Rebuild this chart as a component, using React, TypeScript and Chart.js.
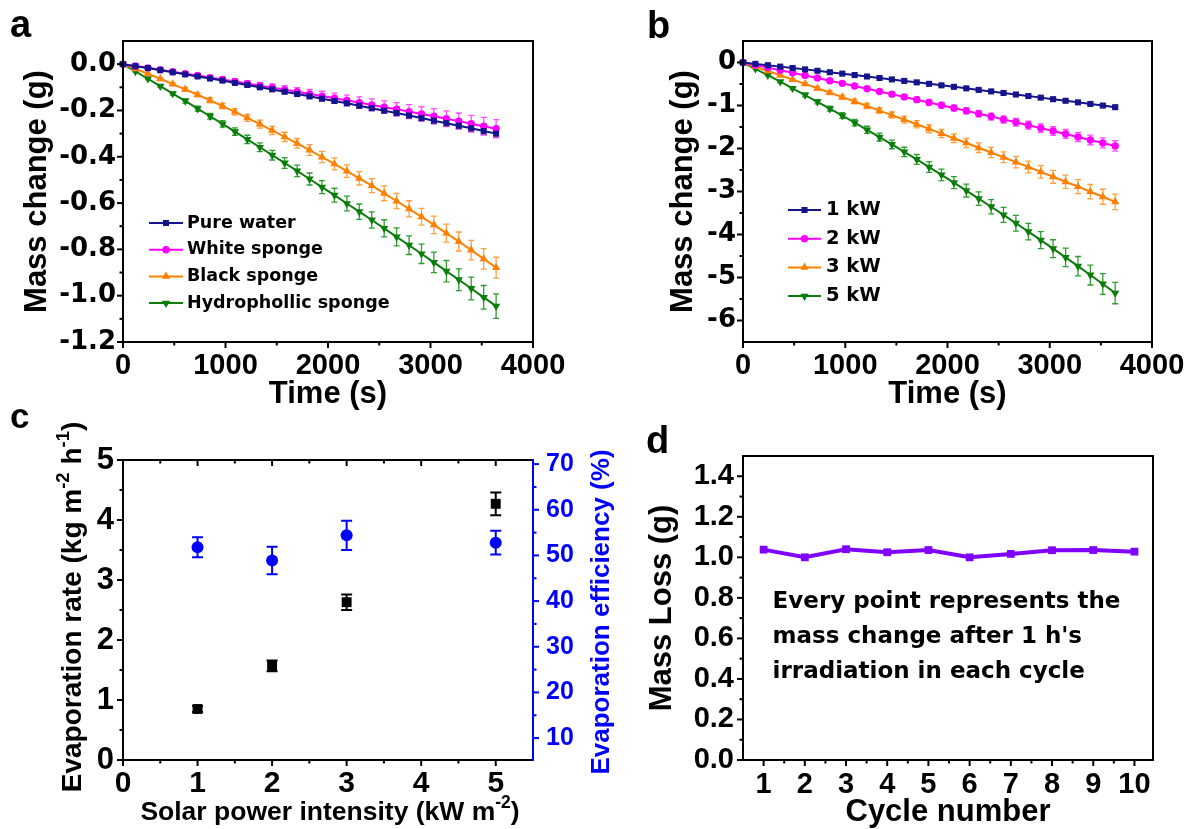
import React, { useEffect, useRef } from 'react';
import { Chart, registerables } from 'chart.js';

Chart.register(...registerables);

const ARIAL = "'Liberation Sans', Arial, sans-serif";
const DJV = "'DejaVu Sans', 'Liberation Sans', sans-serif";

// ---------------- Panel a data ----------------
const timeS = [0, 121, 243, 364, 485, 607, 728, 849, 971, 1092, 1213, 1335, 1456, 1577, 1699, 1820, 1941, 2063, 2184, 2305, 2427, 2548, 2669, 2791, 2912, 3033, 3155, 3276, 3397, 3519, 3640];
const aLabels = ['Pure water', 'White sponge', 'Black sponge', 'Hydrophollic sponge'];
const pureWater = [0, -0.009, -0.017, -0.026, -0.035, -0.044, -0.053, -0.062, -0.071, -0.081, -0.090, -0.100, -0.109, -0.119, -0.129, -0.139, -0.149, -0.159, -0.169, -0.180, -0.190, -0.201, -0.211, -0.222, -0.233, -0.244, -0.255, -0.266, -0.277, -0.289, -0.300];
const pureWaterErr = [0, 0.001, 0.001, 0.002, 0.002, 0.003, 0.003, 0.004, 0.004, 0.005, 0.005, 0.006, 0.006, 0.007, 0.007, 0.008, 0.008, 0.009, 0.009, 0.010, 0.010, 0.011, 0.011, 0.012, 0.012, 0.013, 0.013, 0.014, 0.014, 0.015, 0.015];
const whiteSponge = [0, -0.008, -0.016, -0.024, -0.033, -0.041, -0.049, -0.058, -0.066, -0.075, -0.084, -0.093, -0.101, -0.110, -0.119, -0.129, -0.138, -0.147, -0.157, -0.166, -0.176, -0.186, -0.195, -0.205, -0.215, -0.225, -0.236, -0.246, -0.257, -0.268, -0.279];
const whiteSpongeErr = [0, 0.001, 0.003, 0.004, 0.005, 0.007, 0.008, 0.009, 0.010, 0.012, 0.013, 0.014, 0.016, 0.017, 0.018, 0.020, 0.021, 0.022, 0.023, 0.025, 0.026, 0.027, 0.029, 0.030, 0.031, 0.033, 0.034, 0.035, 0.036, 0.038, 0.039];
const blackSponge = [0, -0.020, -0.042, -0.063, -0.086, -0.109, -0.132, -0.156, -0.181, -0.206, -0.232, -0.259, -0.286, -0.314, -0.342, -0.371, -0.401, -0.431, -0.462, -0.493, -0.525, -0.558, -0.591, -0.625, -0.659, -0.694, -0.730, -0.766, -0.803, -0.841, -0.879];
const blackSpongeErr = [0, 0.002, 0.003, 0.005, 0.006, 0.008, 0.009, 0.011, 0.012, 0.014, 0.015, 0.017, 0.018, 0.020, 0.021, 0.023, 0.024, 0.026, 0.027, 0.029, 0.030, 0.032, 0.033, 0.035, 0.036, 0.038, 0.039, 0.041, 0.042, 0.044, 0.045];
const hydroSponge = [0, -0.031, -0.063, -0.095, -0.127, -0.159, -0.192, -0.225, -0.258, -0.291, -0.325, -0.359, -0.393, -0.427, -0.461, -0.496, -0.531, -0.566, -0.602, -0.637, -0.673, -0.709, -0.746, -0.782, -0.819, -0.856, -0.894, -0.931, -0.969, -1.007, -1.045];
const hydroSpongeErr = [0, 0.002, 0.004, 0.005, 0.007, 0.009, 0.011, 0.012, 0.014, 0.016, 0.018, 0.019, 0.021, 0.023, 0.025, 0.026, 0.028, 0.030, 0.032, 0.033, 0.035, 0.037, 0.039, 0.040, 0.042, 0.044, 0.046, 0.047, 0.049, 0.051, 0.053];
const timeTicks = [0, 1000, 2000, 3000, 4000];
const timeMinor = [500, 1500, 2500, 3500];
const aYTicks = [-1.2, -1.0, -0.8, -0.6, -0.4, -0.2, 0];
const aYMinor = [-1.1, -0.9, -0.7, -0.5, -0.3, -0.1];

// ---------------- Panel b data ----------------
const bLabels = ['1 kW', '2 kW', '3 kW', '5 kW'];
const kw1 = [0, -0.032, -0.063, -0.096, -0.128, -0.160, -0.193, -0.226, -0.259, -0.292, -0.326, -0.360, -0.393, -0.428, -0.462, -0.496, -0.531, -0.566, -0.601, -0.637, -0.672, -0.708, -0.744, -0.780, -0.817, -0.853, -0.890, -0.927, -0.964, -1.002, -1.039];
const kw1Err = [0, 0.001, 0.002, 0.003, 0.004, 0.005, 0.006, 0.007, 0.008, 0.009, 0.010, 0.011, 0.012, 0.013, 0.014, 0.015, 0.016, 0.017, 0.018, 0.019, 0.020, 0.021, 0.022, 0.023, 0.024, 0.025, 0.026, 0.027, 0.028, 0.029, 0.030];
const kw2 = [0, -0.059, -0.119, -0.179, -0.240, -0.300, -0.362, -0.423, -0.485, -0.547, -0.610, -0.673, -0.736, -0.800, -0.864, -0.929, -0.994, -1.059, -1.124, -1.190, -1.257, -1.323, -1.390, -1.458, -1.526, -1.594, -1.662, -1.731, -1.801, -1.870, -1.940];
const kw2Err = [0, 0.004, 0.008, 0.012, 0.016, 0.020, 0.024, 0.028, 0.032, 0.036, 0.040, 0.044, 0.048, 0.052, 0.056, 0.060, 0.064, 0.068, 0.072, 0.076, 0.080, 0.084, 0.088, 0.092, 0.096, 0.100, 0.104, 0.108, 0.112, 0.116, 0.120];
const kw3 = [0, -0.098, -0.197, -0.297, -0.397, -0.498, -0.600, -0.702, -0.805, -0.908, -1.013, -1.118, -1.223, -1.330, -1.437, -1.544, -1.653, -1.762, -1.871, -1.982, -2.093, -2.204, -2.317, -2.430, -2.543, -2.658, -2.773, -2.888, -3.005, -3.122, -3.240];
const kw3Err = [0, 0.006, 0.012, 0.018, 0.024, 0.030, 0.036, 0.042, 0.048, 0.054, 0.060, 0.066, 0.072, 0.078, 0.084, 0.090, 0.096, 0.102, 0.108, 0.114, 0.120, 0.126, 0.132, 0.138, 0.144, 0.150, 0.156, 0.162, 0.168, 0.174, 0.180];
const kw5 = [0, -0.147, -0.296, -0.447, -0.600, -0.756, -0.913, -1.073, -1.235, -1.400, -1.566, -1.735, -1.906, -2.079, -2.255, -2.432, -2.612, -2.794, -2.979, -3.165, -3.354, -3.545, -3.738, -3.933, -4.130, -4.330, -4.532, -4.736, -4.942, -5.151, -5.362];
const kw5Err = [0, 0.008, 0.017, 0.025, 0.033, 0.042, 0.050, 0.058, 0.066, 0.075, 0.083, 0.091, 0.100, 0.108, 0.116, 0.125, 0.133, 0.141, 0.149, 0.158, 0.166, 0.174, 0.183, 0.191, 0.199, 0.208, 0.216, 0.224, 0.232, 0.241, 0.249];
const bYTicks = [-6, -5, -4, -3, -2, -1, 0];
const bYMinor = [-5.5, -4.5, -3.5, -2.5, -1.5, -0.5];

// ---------------- Panel c data ----------------
const cPower = [1, 2, 3, 5];
const cRate = [0.85, 1.57, 2.63, 4.27];
const cRateErr = [0.05, 0.09, 0.13, 0.19];
const cEff = [51.8, 48.9, 54.4, 52.8];
const cEffErr = [2.2, 3.0, 3.2, 2.6];
const cXTicks = [0, 1, 2, 3, 4, 5];
const cXMinor = [0.5, 1.5, 2.5, 3.5, 4.5];
const cYTicks = [0, 1, 2, 3, 4, 5];
const cYMinor = [0.5, 1.5, 2.5, 3.5, 4.5];
const cY2Ticks = [10, 20, 30, 40, 50, 60, 70];
const cY2Minor = [15, 25, 35, 45, 55, 65];

// ---------------- Panel d data ----------------
const cycles = [1, 2, 3, 4, 5, 6, 7, 8, 9, 10];
const massLoss = [1.038, 1.0, 1.04, 1.025, 1.036, 1.0, 1.017, 1.035, 1.036, 1.028];
const dXMinor = [1.5, 2.5, 3.5, 4.5, 5.5, 6.5, 7.5, 8.5, 9.5];
const dYTicks = [0, 0.2, 0.4, 0.6, 0.8, 1.0, 1.2, 1.4];
const dYMinor = [0.1, 0.3, 0.5, 0.7, 0.9, 1.1, 1.3];
const dNote = ['Every point represents the', "mass change after 1 h's", 'irradiation in each cycle'];

// ---------------- helpers ----------------
type Seg = { t: string; sup?: boolean };
type TextItem = {
  segs: Seg[]; x: number; y: number; rot?: number; size: number; weight?: string;
  color?: string; align?: 'left' | 'center'; baseline?: CanvasTextBaseline; family?: string; sx?: number;
};

function drawRich(ctx: CanvasRenderingContext2D, it: TextItem) {
  const fam = it.family || ARIAL;
  const w = it.weight || 'bold';
  const fMain = `${w} ${it.size}px ${fam}`;
  const fSup = `${w} ${it.size * 0.66}px ${fam}`;
  let total = 0;
  const widths = it.segs.map((s) => {
    ctx.font = s.sup ? fSup : fMain;
    const m = ctx.measureText(s.t).width;
    total += m;
    return m;
  });
  ctx.save();
  ctx.translate(it.x, it.y);
  if (it.rot) ctx.rotate((it.rot * Math.PI) / 180);
  if (it.sx) ctx.scale(it.sx, 1);
  ctx.fillStyle = it.color || '#000';
  ctx.textBaseline = it.baseline || 'middle';
  ctx.textAlign = 'left';
  let x = it.align === 'center' ? -total / 2 : 0;
  it.segs.forEach((s, i) => {
    ctx.font = s.sup ? fSup : fMain;
    ctx.fillText(s.t, x, s.sup ? -it.size * 0.36 : 0);
    x += widths[i];
  });
  ctx.restore();
}

function drawMarker(ctx: CanvasRenderingContext2D, style: string, rot: number, x: number, y: number, r: number, color: string) {
  ctx.save();
  ctx.fillStyle = color;
  ctx.beginPath();
  if (style === 'rect') {
    const s = r * Math.SQRT1_2;
    ctx.rect(x - s, y - s, 2 * s, 2 * s);
  } else if (style === 'circle') {
    ctx.arc(x, y, r, 0, Math.PI * 2);
  } else {
    let a = (rot * Math.PI) / 180;
    ctx.moveTo(x + Math.sin(a) * r, y - Math.cos(a) * r);
    a += (2 * Math.PI) / 3;
    ctx.lineTo(x + Math.sin(a) * r, y - Math.cos(a) * r);
    a += (2 * Math.PI) / 3;
    ctx.lineTo(x + Math.sin(a) * r, y - Math.cos(a) * r);
    ctx.closePath();
  }
  ctx.fill();
  ctx.restore();
}

const errorBarsPlugin = {
  id: 'errorBars',
  beforeDatasetsDraw(chart: any) {
    const ctx = chart.ctx as CanvasRenderingContext2D;
    chart.data.datasets.forEach((ds: any, i: number) => {
      if (!ds.errors) return;
      const meta = chart.getDatasetMeta(i);
      const ys = chart.scales[meta.yAxisID];
      const cap = ds.errorCap || 3;
      ctx.save();
      ctx.strokeStyle = ds.errorColor || ds.borderColor;
      ctx.lineWidth = ds.errorWidth || 1.5;
      meta.data.forEach((el: any, j: number) => {
        const e = ds.errors[j];
        if (!e) return;
        const raw = ds.data[j];
        const v = typeof raw === 'number' ? raw : raw.y;
        const yt = ys.getPixelForValue(v + e);
        const yb = ys.getPixelForValue(v - e);
        const x = el.x;
        ctx.beginPath();
        ctx.moveTo(x, yt); ctx.lineTo(x, yb);
        ctx.moveTo(x - cap, yt); ctx.lineTo(x + cap, yt);
        ctx.moveTo(x - cap, yb); ctx.lineTo(x + cap, yb);
        ctx.stroke();
      });
      ctx.restore();
    });
  },
};

type AxisSpec = { side: 'left' | 'right' | 'top' | 'bottom'; scale?: string; major?: number[]; minor?: number[]; dir?: 'in' | 'out'; color?: string };

function makeFramePlugin(specs: AxisSpec[]) {
  return {
    id: 'frame',
    afterDatasetsDraw(chart: any) {
      const ctx = chart.ctx as CanvasRenderingContext2D;
      const ca = chart.chartArea;
      ctx.save();
      ctx.lineWidth = 2;
      ctx.lineCap = 'square';
      for (const s of specs) {
        ctx.strokeStyle = s.color || '#000';
        ctx.beginPath();
        if (s.side === 'left') { ctx.moveTo(ca.left, ca.top); ctx.lineTo(ca.left, ca.bottom); }
        if (s.side === 'right') { ctx.moveTo(ca.right, ca.top); ctx.lineTo(ca.right, ca.bottom); }
        if (s.side === 'top') { ctx.moveTo(ca.left, ca.top); ctx.lineTo(ca.right, ca.top); }
        if (s.side === 'bottom') { ctx.moveTo(ca.left, ca.bottom); ctx.lineTo(ca.right, ca.bottom); }
        ctx.stroke();
        if (!s.scale) continue;
        const sc = chart.scales[s.scale];
        const sign = s.dir === 'in' ? -1 : 1;
        ctx.lineCap = 'butt';
        const draw = (vals: number[] | undefined, len: number) => {
          (vals || []).forEach((v) => {
            const p = sc.getPixelForValue(v);
            ctx.beginPath();
            if (s.side === 'left') { ctx.moveTo(ca.left, p); ctx.lineTo(ca.left - sign * len, p); }
            if (s.side === 'right') { ctx.moveTo(ca.right, p); ctx.lineTo(ca.right + sign * len, p); }
            if (s.side === 'bottom') { ctx.moveTo(p, ca.bottom); ctx.lineTo(p, ca.bottom + sign * len); }
            if (s.side === 'top') { ctx.moveTo(p, ca.top); ctx.lineTo(p, ca.top - sign * len); }
            ctx.stroke();
          });
        };
        draw(s.major, 6);
        draw(s.minor, 3.5);
        ctx.lineCap = 'square';
      }
      ctx.restore();
    },
  };
}

function makeLegendPlugin(cfg: { x0: number; x1: number; tx: number; y0: number; dy: number; size: number }) {
  return {
    id: 'innerLegend',
    afterDraw(chart: any) {
      const ctx = chart.ctx as CanvasRenderingContext2D;
      const ca = chart.chartArea;
      chart.data.datasets.forEach((ds: any, i: number) => {
        const y = ca.top + cfg.y0 + i * cfg.dy;
        ctx.save();
        ctx.strokeStyle = ds.borderColor;
        ctx.lineWidth = 2;
        ctx.beginPath();
        ctx.moveTo(ca.left + cfg.x0, y);
        ctx.lineTo(ca.left + cfg.x1, y);
        ctx.stroke();
        ctx.restore();
        drawMarker(ctx, ds.pointStyle, ds.pointRotation || 0, ca.left + (cfg.x0 + cfg.x1) / 2, y, ds.pointRadius, ds.borderColor);
        drawRich(ctx, { segs: [{ t: ds.label }], x: ca.left + cfg.tx, y, size: cfg.size, family: DJV });
      });
    },
  };
}

function makeTextPlugin(items: TextItem[]) {
  return {
    id: 'texts',
    afterDraw(chart: any) {
      items.forEach((it) => drawRich(chart.ctx, it));
    },
  };
}

function linScale(o: {
  min: number; max: number; ticks: number[]; fmt: (v: number) => string; size: number; family?: string;
  pad: number; fitW?: number; fitH?: number; title?: string; titleSize?: number; titlePad?: any;
  color?: string; position?: string;
}) {
  const color = o.color || '#000';
  return {
    type: 'linear',
    position: o.position,
    min: o.min,
    max: o.max,
    afterBuildTicks: (s: any) => { s.ticks = o.ticks.map((v) => ({ value: v })); },
    afterFit: (s: any) => {
      if (o.fitW != null) s.width = o.fitW;
      if (o.fitH != null) s.height = o.fitH;
    },
    grid: { display: false, drawTicks: false },
    border: { display: false },
    ticks: {
      color,
      autoSkip: false,
      maxRotation: 0,
      padding: o.pad,
      font: { family: o.family || ARIAL, size: o.size, weight: 'bold' },
      callback: (v: any) => o.fmt(Number(v)),
    },
    title: o.title
      ? { display: true, text: o.title, color, font: { family: ARIAL, size: o.titleSize, weight: 'bold' }, padding: o.titlePad }
      : { display: false },
  };
}

function lineSet(label: string, ys: number[], errs: number[], color: string, errColor: string, style: string, r: number, rot = 0) {
  return {
    label,
    data: timeS.map((t, i) => ({ x: t, y: ys[i] })),
    errors: errs,
    errorColor: errColor,
    errorCap: 3,
    errorWidth: 1.3,
    borderColor: color,
    backgroundColor: color,
    borderWidth: 2,
    pointStyle: style,
    pointRadius: r,
    pointRotation: rot,
    pointBackgroundColor: color,
    pointBorderColor: color,
    pointBorderWidth: 0,
    tension: 0,
    clip: false,
  };
}

const fmt1 = (v: number) => (Math.abs(v) < 1e-9 ? '0.0' : v.toFixed(1));
const fmtInt = (v: number) => String(Math.round(v));

const baseOpts = {
  animation: false,
  responsive: false,
  events: [],
  plugins: { legend: { display: false }, tooltip: { enabled: false } },
};

function makeA(): any {
  return {
    type: 'line',
    data: {
      datasets: [
        lineSet(aLabels[0], pureWater, pureWaterErr, '#14148c', '#5050b8', 'rect', 4.3),
        lineSet(aLabels[1], whiteSponge, whiteSpongeErr, '#ff00ff', '#ff4dff', 'circle', 3.7),
        lineSet(aLabels[2], blackSponge, blackSpongeErr, '#ff8000', '#ffa040', 'triangle', 4.8),
        lineSet(aLabels[3], hydroSponge, hydroSpongeErr, '#0b7d0b', '#2f9d2f', 'triangle', 4.8, 180),
      ],
    },
    options: {
      ...baseOpts,
      layout: { padding: { top: 41, right: 57, left: 0, bottom: 0 } },
      scales: {
        x: linScale({ min: 0, max: 4000, ticks: timeTicks, fmt: fmtInt, size: 29, pad: 7, fitH: 78, title: 'Time (s)', titleSize: 31, titlePad: { top: 0, bottom: 7 } }),
        y: linScale({ min: -1.2, max: 0.1, ticks: aYTicks, fmt: fmt1, size: 26, family: DJV, pad: 7, fitW: 123, title: 'Mass change (g)', titleSize: 31, titlePad: { top: 19, bottom: 0 } }),
      },
    },
    plugins: [
      errorBarsPlugin,
      makeFramePlugin([
        { side: 'left', scale: 'y', major: aYTicks, minor: aYMinor },
        { side: 'bottom', scale: 'x', major: timeTicks, minor: timeMinor },
        { side: 'top' },
        { side: 'right' },
      ]),
      makeLegendPlugin({ x0: 26, x1: 60, tx: 64, y0: 182, dy: 26.7, size: 17.5 }),
      makeTextPlugin([{ segs: [{ t: 'a' }], x: 10, y: 37, size: 38, baseline: 'alphabetic' }]),
    ],
  };
}

function makeB(): any {
  return {
    type: 'line',
    data: {
      datasets: [
        lineSet(bLabels[0], kw1, kw1Err, '#14148c', '#5050b8', 'rect', 4.3),
        lineSet(bLabels[1], kw2, kw2Err, '#ff00ff', '#ff4dff', 'circle', 3.7),
        lineSet(bLabels[2], kw3, kw3Err, '#ff8000', '#ffa040', 'triangle', 4.8),
        lineSet(bLabels[3], kw5, kw5Err, '#0b7d0b', '#2f9d2f', 'triangle', 4.8, 180),
      ],
    },
    options: {
      ...baseOpts,
      layout: { padding: { top: 41, right: 42, left: 0, bottom: 0 } },
      scales: {
        x: linScale({ min: 0, max: 4000, ticks: timeTicks, fmt: fmtInt, size: 29, pad: 7, fitH: 78, title: 'Time (s)', titleSize: 31, titlePad: { top: 0, bottom: 7 } }),
        y: linScale({ min: -6.5, max: 0.5, ticks: bYTicks, fmt: fmtInt, size: 26, family: DJV, pad: 7, fitW: 143, title: 'Mass change (g)', titleSize: 31, titlePad: { top: 65, bottom: 0 } }),
      },
    },
    plugins: [
      errorBarsPlugin,
      makeFramePlugin([
        { side: 'left', scale: 'y', major: bYTicks, minor: bYMinor },
        { side: 'bottom', scale: 'x', major: timeTicks, minor: timeMinor },
        { side: 'top' },
        { side: 'right' },
      ]),
      makeLegendPlugin({ x0: 45, x1: 78, tx: 83, y0: 169, dy: 28.7, size: 19.5 }),
      makeTextPlugin([{ segs: [{ t: 'b' }], x: 47, y: 38, size: 38, baseline: 'alphabetic' }]),
    ],
  };
}

function makeC(): any {
  return {
    type: 'scatter',
    data: {
      datasets: [
        {
          label: 'Evaporation rate',
          data: cPower.map((x, i) => ({ x, y: cRate[i] })),
          errors: cRateErr, errorColor: '#000', errorCap: 5.5, errorWidth: 2,
          yAxisID: 'y', showLine: false, pointStyle: 'rect', pointRadius: 7,
          backgroundColor: '#000', borderColor: '#000', pointBorderWidth: 0, clip: false,
        },
        {
          label: 'Evaporation efficiency',
          data: cPower.map((x, i) => ({ x, y: cEff[i] })),
          errors: cEffErr, errorColor: '#0000ff', errorCap: 5.5, errorWidth: 2,
          yAxisID: 'y2', showLine: false, pointStyle: 'circle', pointRadius: 6,
          backgroundColor: '#0000ff', borderColor: '#0000ff', pointBorderWidth: 0, clip: false,
        },
      ],
    },
    options: {
      ...baseOpts,
      layout: { padding: { top: 60, right: 0, left: 0, bottom: 0 } },
      scales: {
        x: linScale({ min: 0, max: 5.5, ticks: cXTicks, fmt: fmtInt, size: 30, pad: 6, fitH: 80 }),
        y: linScale({ min: 0, max: 5, ticks: cYTicks, fmt: fmtInt, size: 31, pad: 9, fitW: 123, position: 'left' }),
        y2: linScale({ min: 5.2, max: 70.9, ticks: cY2Ticks, fmt: fmtInt, size: 25, pad: 13, fitW: 87, position: 'right', color: '#0000ff' }),
      },
    },
    plugins: [
      errorBarsPlugin,
      makeFramePlugin([
        { side: 'left', scale: 'y', major: cYTicks, minor: cYMinor },
        { side: 'bottom', scale: 'x', major: cXTicks, minor: cXMinor },
        { side: 'top', scale: 'x', major: cXTicks, minor: cXMinor, dir: 'in' },
        { side: 'right', scale: 'y2', major: cY2Ticks, minor: cY2Minor, color: '#0000ff' },
      ]),
      makeTextPlugin([
        { segs: [{ t: 'c' }], x: 10, y: 28, size: 35, baseline: 'alphabetic' },
        { segs: [{ t: 'Evaporation rate (kg m' }, { t: '-2', sup: true }, { t: ' h' }, { t: '-1', sup: true }, { t: ')' }], x: 73.5, y: 207, rot: -90, size: 28, align: 'center' },
        { segs: [{ t: 'Solar power intensity (kW m' }, { t: '-2', sup: true }, { t: ')' }], x: 330, y: 413, size: 26.5, align: 'center' },
        { segs: [{ t: 'Evaporation efficiency (%)' }], x: 602, y: 212, rot: -90, size: 26, align: 'center', color: '#0000ff' },
      ]),
    ],
  };
}

function makeD(): any {
  return {
    type: 'line',
    data: {
      datasets: [
        {
          label: 'Mass loss',
          data: cycles.map((x, i) => ({ x, y: massLoss[i] })),
          borderColor: '#8000ff', backgroundColor: '#8000ff', borderWidth: 4,
          pointStyle: 'rect', pointRadius: 5.5, pointBorderWidth: 0, pointBackgroundColor: '#8000ff',
          tension: 0, clip: false,
        },
      ],
    },
    options: {
      ...baseOpts,
      layout: { padding: { top: 56, right: 41, left: 0, bottom: 0 } },
      scales: {
        x: linScale({ min: 0.5, max: 10.45, ticks: cycles, fmt: fmtInt, size: 29, pad: 8, fitH: 80, title: 'Cycle number', titleSize: 31, titlePad: { top: 0, bottom: 9 } }),
        y: linScale({ min: 0, max: 1.5, ticks: dYTicks, fmt: fmt1, size: 29, pad: 9, fitW: 143, title: 'Mass Loss (g)', titleSize: 31, titlePad: { top: 44, bottom: 0 } }),
      },
    },
    plugins: [
      makeFramePlugin([
        { side: 'left', scale: 'y', major: dYTicks, minor: dYMinor },
        { side: 'bottom', scale: 'x', major: cycles, minor: dXMinor },
        { side: 'top' },
        { side: 'right' },
      ]),
      makeTextPlugin([
        { segs: [{ t: 'd' }], x: 46, y: 53, size: 38, baseline: 'alphabetic' },
        ...dNote.map((t, i) => ({ segs: [{ t }], x: 172.6, y: 202 + i * 35, size: 23, family: DJV })),
      ]),
    ],
  };
}

function Panel({ make, left, top, w, h }: { make: () => any; left: number; top: number; w: number; h: number }) {
  const ref = useRef<HTMLCanvasElement>(null);
  useEffect(() => {
    const chart = new Chart(ref.current as HTMLCanvasElement, make());
    return () => chart.destroy();
  }, []);
  return <canvas ref={ref} width={w} height={h} style={{ position: 'absolute', left, top, width: w, height: h }} />;
}

export default function App() {
  return (
    <div style={{ position: 'fixed', left: 0, top: 0, width: 1194, height: 829, background: '#fff', overflow: 'hidden' }}>
      <Panel make={makeA} left={0} top={0} w={590} h={420} />
      <Panel make={makeB} left={600} top={0} w={594} h={420} />
      <Panel make={makeC} left={0} top={400} w={620} h={440} />
      <Panel make={makeD} left={600} top={400} w={594} h={440} />
    </div>
  );
}
